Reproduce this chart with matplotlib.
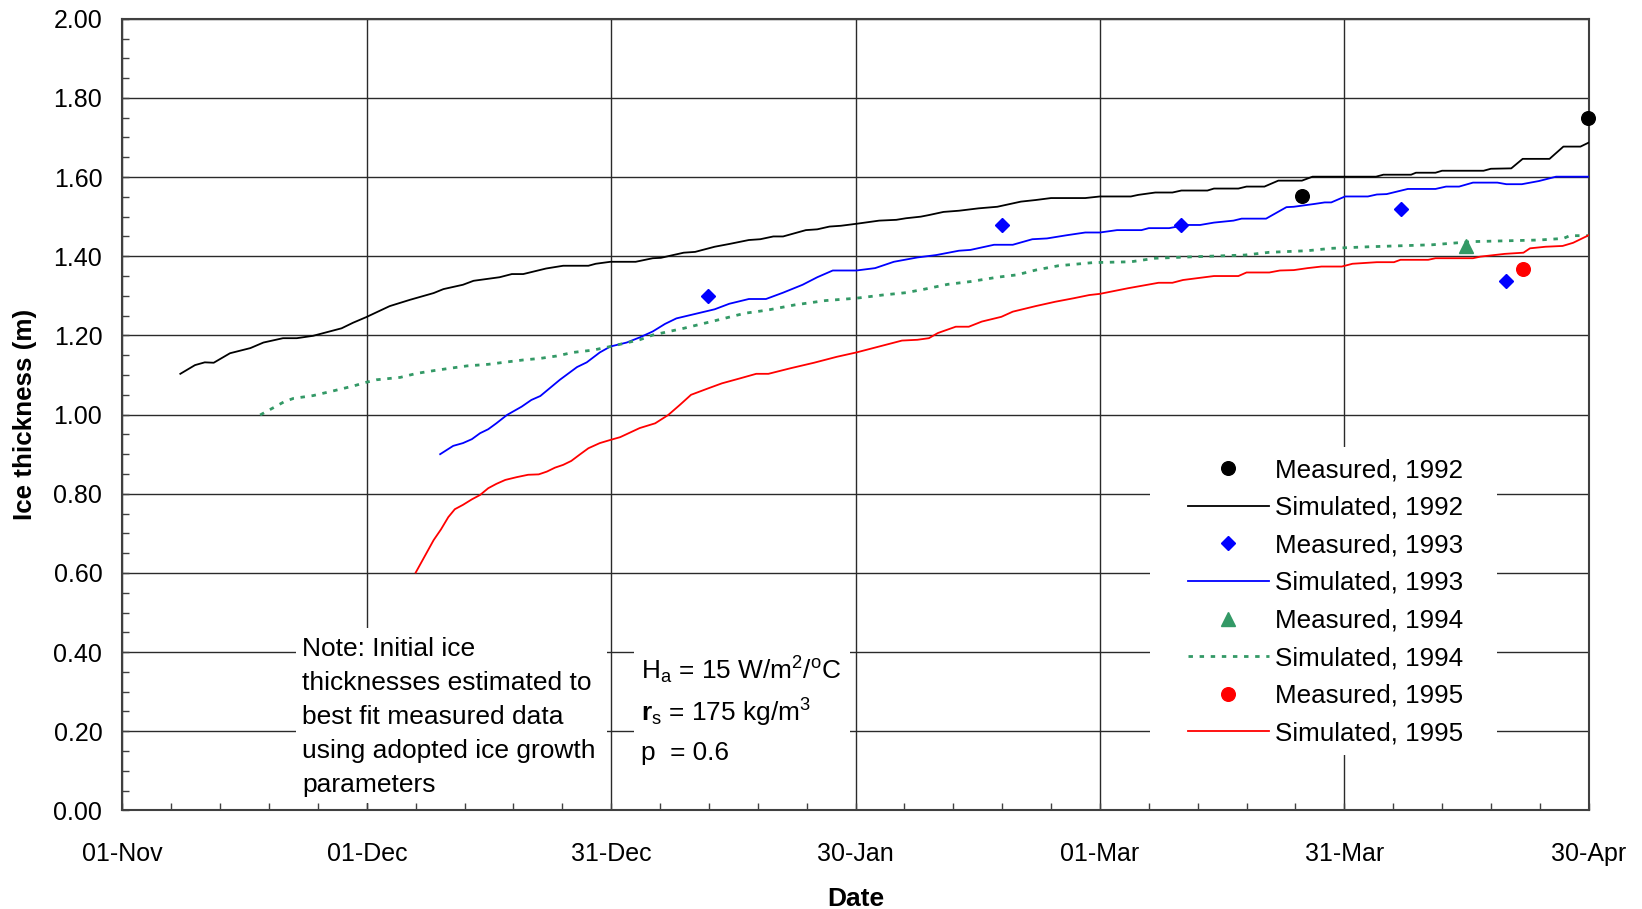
import matplotlib
matplotlib.use("Agg")
import matplotlib.pyplot as plt
from matplotlib.patches import Rectangle
from matplotlib.ticker import FixedLocator, MultipleLocator, FormatStrFormatter

plt.rcParams['font.family'] = ['Liberation Sans', 'DejaVu Sans']
plt.rcParams['mathtext.fontset'] = 'custom'
plt.rcParams['mathtext.rm'] = 'Liberation Sans'
plt.rcParams['mathtext.it'] = 'Liberation Sans:italic'
plt.rcParams['mathtext.bf'] = 'Liberation Sans:bold'

# x values are days after 01-Nov
tick_days = [0, 30, 60, 90, 120, 150, 180]
tick_labels = ['01-Nov', '01-Dec', '31-Dec', '30-Jan', '01-Mar', '31-Mar', '30-Apr']

# measured ice thickness (m)
meas_1992_day = [144.8, 179.9]
meas_1992_ice = [1.551, 1.748]
meas_1993_day = [71.9, 108.0, 129.9, 157.0, 169.9]
meas_1993_ice = [1.300, 1.479, 1.479, 1.520, 1.338]
meas_1994_day = [165.0]
meas_1994_ice = [1.427]
meas_1995_day = [171.9]
meas_1995_ice = [1.369]

# simulated ice thickness (m)
sim_1992_day = [7.1, 8.9, 10.1, 11.2, 13.2, 15.7, 17.3, 19.7, 21.4, 23.4, 26.9, 28.3,
                29.9, 32.8, 35.3, 38.2, 39.4, 41.8, 43.1, 46.3, 47.8, 49.2, 52.0, 54.1,
                57.2, 58.1, 59.9, 63.0, 65.1, 66.1, 68.9, 70.3, 72.7, 74.5, 76.9, 78.3,
                79.9, 81.1, 83.9, 85.3, 86.8, 88.2, 90.1, 92.9, 95.0, 96.2, 98.0, 99.0,
                100.8, 102.7, 105.1, 107.4, 110.3, 112.1, 114.0, 118.2, 120.0, 123.8,
                124.7, 126.8, 128.9, 130.0, 133.2, 134.0, 137.0, 138.0, 140.2, 141.9,
                144.8, 146.1, 153.9, 154.8, 158.2, 158.8, 161.2, 162.0, 167.1, 168.0,
                170.5, 171.9, 175.2, 176.9, 179.0, 180.0]
sim_1992_ice = [1.103, 1.125, 1.132, 1.131, 1.155, 1.168, 1.182, 1.193, 1.193, 1.199, 1.218, 1.232,
                1.246, 1.274, 1.290, 1.307, 1.317, 1.328, 1.338, 1.347, 1.355, 1.355, 1.369, 1.376,
                1.376, 1.381, 1.386, 1.386, 1.395, 1.396, 1.409, 1.411, 1.424, 1.431, 1.441, 1.443,
                1.450, 1.450, 1.466, 1.468, 1.475, 1.477, 1.482, 1.490, 1.492, 1.496, 1.500, 1.504,
                1.512, 1.515, 1.521, 1.525, 1.538, 1.542, 1.547, 1.547, 1.551, 1.551,
                1.555, 1.561, 1.561, 1.566, 1.566, 1.571, 1.571, 1.576, 1.576, 1.591,
                1.591, 1.601, 1.601, 1.606, 1.606, 1.611, 1.611, 1.616, 1.616, 1.621,
                1.622, 1.646, 1.646, 1.677, 1.677, 1.687]

sim_1993_day = [39.0, 40.6, 41.8, 42.9, 43.9, 44.9, 45.9, 47.2, 49.0, 50.2, 51.3, 53.7,
                55.8, 57.0, 58.6, 59.9, 61.9, 63.5, 65.1, 66.6, 68.0, 72.7, 74.5, 76.9,
                79.0, 81.1, 83.5, 85.3, 87.2, 90.1, 92.4, 94.7, 97.6, 99.9, 102.7, 104.1,
                107.0, 109.3, 111.7, 113.5, 115.9, 118.2, 120.0, 122.1, 125.1, 126.0,
                128.5, 130.6, 132.3, 134.0, 136.4, 137.4, 140.4, 141.0, 142.9, 143.8,
                146.3, 147.6, 148.4, 150.1, 152.9, 154.0, 155.2, 157.8, 161.2, 162.5,
                164.1, 165.8, 168.8, 169.9, 171.8, 173.9, 176.0, 180.0]
sim_1993_ice = [0.900, 0.921, 0.928, 0.938, 0.953, 0.963, 0.978, 0.999, 1.020, 1.037, 1.047, 1.088,
                1.120, 1.132, 1.157, 1.172, 1.182, 1.195, 1.210, 1.229, 1.243, 1.266, 1.280, 1.292,
                1.292, 1.308, 1.328, 1.347, 1.364, 1.364, 1.370, 1.386, 1.397, 1.403, 1.414, 1.416,
                1.429, 1.429, 1.443, 1.445, 1.453, 1.460, 1.460, 1.466, 1.466, 1.471,
                1.471, 1.479, 1.479, 1.485, 1.490, 1.495, 1.495, 1.502, 1.524, 1.525,
                1.532, 1.536, 1.536, 1.551, 1.551, 1.556, 1.557, 1.570, 1.570, 1.576,
                1.576, 1.586, 1.586, 1.582, 1.582, 1.590, 1.601, 1.601]

sim_1994_day = [16.9, 19.9, 21.0, 23.4, 25.9, 28.3, 30.0, 31.2, 34.1, 36.1, 38.2, 40.2,
                42.3, 44.9, 47.2, 49.2, 51.3, 53.3, 55.3, 57.8, 59.9, 63.5, 65.1, 68.9,
                72.7, 76.4, 79.2, 82.5, 86.3, 90.1, 93.3, 96.2, 98.5, 101.3, 104.1, 107.4,
                109.8, 112.1, 114.9, 119.2, 123.8, 126.8, 131.9, 137.8, 140.8, 145.5,
                148.4, 153.1, 160.8, 165.8, 173.9, 176.9, 177.7, 180.0]
sim_1994_ice = [0.999, 1.033, 1.041, 1.048, 1.060, 1.072, 1.082, 1.088, 1.094, 1.104, 1.111, 1.117,
                1.123, 1.127, 1.133, 1.138, 1.142, 1.148, 1.157, 1.163, 1.172, 1.189, 1.201, 1.218,
                1.237, 1.256, 1.264, 1.277, 1.288, 1.294, 1.302, 1.308, 1.317, 1.329, 1.336, 1.347,
                1.353, 1.365, 1.376, 1.384, 1.386, 1.395, 1.399, 1.403, 1.410, 1.414,
                1.420, 1.424, 1.429, 1.437, 1.441, 1.445, 1.452, 1.452]

sim_1995_day = [36.0, 38.2, 39.1, 40.0, 40.8, 41.8, 42.9, 43.9, 44.9, 45.9, 47.0, 48.4,
                49.8, 51.1, 52.1, 53.1, 54.1, 55.1, 56.2, 57.2, 58.6, 59.9, 61.1, 63.5,
                65.4, 67.0, 68.4, 69.8, 72.0, 73.6, 75.9, 77.8, 79.3, 82.0, 84.9, 87.7,
                90.1, 92.9, 95.7, 97.6, 99.0, 100.1, 102.3, 103.9, 105.5, 107.9, 109.3,
                112.1, 114.5, 116.8, 118.7, 120.0, 123.4, 127.2, 128.9, 130.2, 134.0,
                137.0, 138.0, 140.8, 142.1, 143.8, 145.5, 147.2, 149.7, 151.0, 154.0,
                156.1, 156.9, 160.3, 161.2, 165.8, 166.7, 169.7, 172.0, 172.8, 174.7,
                176.8, 178.1, 180.0]
sim_1995_ice = [0.601, 0.683, 0.710, 0.741, 0.761, 0.772, 0.786, 0.797, 0.814, 0.825, 0.835, 0.842,
                0.848, 0.849, 0.856, 0.866, 0.873, 0.883, 0.900, 0.915, 0.928, 0.936, 0.943, 0.966,
                0.978, 0.999, 1.024, 1.050, 1.067, 1.079, 1.092, 1.103, 1.103, 1.117, 1.131, 1.146,
                1.157, 1.172, 1.187, 1.189, 1.193, 1.206, 1.222, 1.222, 1.235, 1.247, 1.260,
                1.274, 1.285, 1.294, 1.302, 1.305, 1.319, 1.333, 1.333, 1.340, 1.350,
                1.350, 1.359, 1.359, 1.364, 1.365, 1.370, 1.374, 1.374, 1.381, 1.385,
                1.385, 1.391, 1.391, 1.395, 1.395, 1.399, 1.406, 1.409, 1.420, 1.424,
                1.426, 1.434, 1.453]

GREEN = '#339966'

fig = plt.figure(figsize=(16.42, 9.09), dpi=100)
ax = fig.add_axes([0.0746, 0.1084, 0.8929, 0.8710])

# simulated lines
l92, = ax.plot(sim_1992_day, sim_1992_ice, color='black', lw=1.3, zorder=3)
l93, = ax.plot(sim_1993_day, sim_1993_ice, color='#0000FF', lw=1.3, zorder=3)
l94, = ax.plot(sim_1994_day, sim_1994_ice, color=GREEN, lw=2.0, dashes=(1.6, 2.4), zorder=3)
l95, = ax.plot(sim_1995_day, sim_1995_ice, color='#FF0000', lw=1.3, zorder=3)

# measured points
m92, = ax.plot(meas_1992_day, meas_1992_ice, 'o', color='black', ms=9.8, ls='none', zorder=4, clip_on=False)
m93, = ax.plot(meas_1993_day, meas_1993_ice, 'D', color='#0000FF', ms=7.3, ls='none', zorder=4, clip_on=False)
m94, = ax.plot(meas_1994_day, meas_1994_ice, '^', color=GREEN, ms=10, ls='none', zorder=4, clip_on=False)
m95, = ax.plot(meas_1995_day, meas_1995_ice, 'o', color='#FF0000', ms=9.8, ls='none', zorder=4, clip_on=False)

ax.set_xlim(0, 180)
ax.set_ylim(0, 2.0)

ax.xaxis.set_major_locator(FixedLocator(tick_days))
ax.set_xticklabels(tick_labels)
ax.xaxis.set_minor_locator(MultipleLocator(6))
ax.yaxis.set_major_locator(MultipleLocator(0.2))
ax.yaxis.set_minor_locator(MultipleLocator(0.05))
ax.yaxis.set_major_formatter(FormatStrFormatter('%.2f'))

ax.tick_params(which='both', direction='in', top=False, right=False, color='#404040')
ax.tick_params(which='major', length=5, width=1.0, labelsize=18)
ax.tick_params(which='minor', length=5, width=1.0)
ax.tick_params(axis='y', which='major', pad=14.5)
ax.tick_params(axis='x', which='major', pad=22.5)

ax.grid(True, which='major', color='#2a2a2a', lw=1.0)
for s in ax.spines.values():
    s.set_color('#404040')
    s.set_linewidth(1.5)

ax.set_xlabel('Date', fontsize=19, fontweight='bold', labelpad=15)
ax.set_ylabel('Ice thickness (m)', fontsize=18.7, fontweight='bold', labelpad=12)

# white text boxes over the grid
for x0, y0, x1, y1 in [(0.1183, 0.0095, 0.3305, 0.2305),
                       (0.3489, 0.0133, 0.4962, 0.2406),
                       (0.7008, 0.0701, 0.9372, 0.4591)]:
    ax.add_patch(Rectangle((x0, y0), x1 - x0, y1 - y0, transform=ax.transAxes,
                           facecolor='white', edgecolor='none', zorder=2))

ax.text(0.1227, 0.2195,
        'Note: Initial ice\nthicknesses estimated to\nbest fit measured data\n'
        'using adopted ice growth\nparameters',
        transform=ax.transAxes, fontsize=19, va='top', ha='left',
        linespacing=1.53, zorder=5)

ax.text(0.3535, 0.1657, r'H$_\mathrm{a}$ = 15 W/m$^\mathrm{2}$/$^\mathrm{o}$C',
        transform=ax.transAxes, fontsize=18.9, va='baseline', ha='left', zorder=5)
ax.text(0.3535, 0.1122, r'$\mathbf{r}_\mathrm{s}$ = 175 kg/m$^\mathrm{3}$',
        transform=ax.transAxes, fontsize=18.9, va='baseline', ha='left', zorder=5)
ax.text(0.3535, 0.0638, 'p  = 0.6',
        transform=ax.transAxes, fontsize=18.9, va='baseline', ha='left', zorder=5)

handles = [m92, l92, m93, l93, m94, l94, m95, l95]
labels = ['Measured, 1992', 'Simulated, 1992', 'Measured, 1993', 'Simulated, 1993',
          'Measured, 1994', 'Simulated, 1994', 'Measured, 1995', 'Simulated, 1995']
leg = ax.legend(handles, labels, loc='upper left', bbox_to_anchor=(0.7268, 0.4451),
                frameon=False, fontsize=18.7, numpoints=1, handlelength=3.1,
                handletextpad=0.26, labelspacing=0.525, borderpad=0, borderaxespad=0)
leg.set_zorder(6)

fig.savefig('out.png', dpi=100)
